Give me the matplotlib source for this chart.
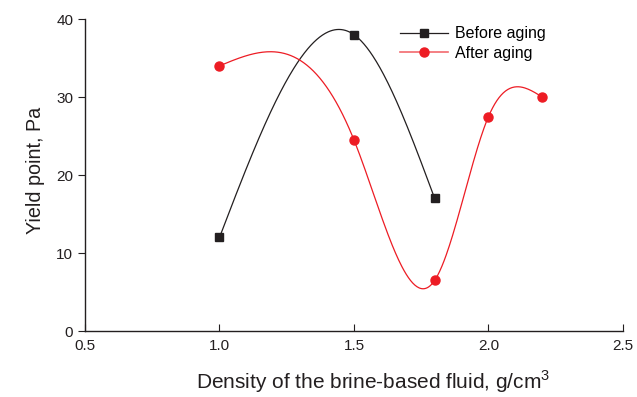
import numpy as np
import matplotlib
matplotlib.use("Agg")
import matplotlib.pyplot as plt

plt.rcParams['font.family'] = ['Liberation Sans', 'DejaVu Sans']

before_x = [1.0, 1.5, 1.8]
before_y = [12, 38, 17]
after_x = [1.0, 1.5, 1.8, 2.0, 2.2]
after_y = [34, 24.5, 6.5, 27.5, 30]
xticks = [0.5, 1.0, 1.5, 2.0, 2.5]
yticks = [0, 10, 20, 30, 40]


def natural_spline(x, y, n=300):
    x = np.asarray(x, float)
    y = np.asarray(y, float)
    m = len(x)
    h = np.diff(x)
    A = np.zeros((m, m))
    b = np.zeros(m)
    A[0, 0] = 1
    A[-1, -1] = 1
    for i in range(1, m - 1):
        A[i, i - 1] = h[i - 1]
        A[i, i] = 2 * (h[i - 1] + h[i])
        A[i, i + 1] = h[i]
        b[i] = 6 * ((y[i + 1] - y[i]) / h[i] - (y[i] - y[i - 1]) / h[i - 1])
    M = np.linalg.solve(A, b)
    xs = np.linspace(x[0], x[-1], n)
    ys = np.empty_like(xs)
    for k, t in enumerate(xs):
        i = min(np.searchsorted(x, t, side='right') - 1, m - 2)
        i = max(i, 0)
        a = x[i + 1] - t
        c = t - x[i]
        ys[k] = (M[i] * a**3 / (6 * h[i]) + M[i + 1] * c**3 / (6 * h[i])
                 + (y[i] / h[i] - M[i] * h[i] / 6) * a
                 + (y[i + 1] / h[i] - M[i + 1] * h[i] / 6) * c)
    return xs, ys


fig = plt.figure(figsize=(6.37, 3.97), dpi=100)
ax = fig.add_axes([0.1334, 0.166, 0.8446, 0.786])

black = '#231f20'
red = '#ed1c24'

bx, by = natural_spline(before_x, before_y)
ax.plot(bx, by, color=black, lw=0.9)
ax.plot(before_x, before_y, 's', color=black, ms=5.5, mec=black)

axx, ayy = natural_spline(after_x, after_y)
ax.plot(axx, ayy, color=red, lw=0.9)
ax.plot(after_x, after_y, 'o', color=red, ms=6.5, mec=red)

ax.plot([], [], '-s', color=black, lw=0.9, ms=5.5, label='Before aging')
ax.plot([], [], '-o', color='#f26a6e', mfc=red, mec=red, lw=1.2, ms=6.5, label='After aging')

ax.set_xlim(0.5, 2.5)
ax.set_ylim(0, 40)
ax.set_xticks(xticks)
ax.set_xticklabels(['0.5', '1.0', '1.5', '2.0', '2.5'])
ax.set_yticks(yticks)
for s in ['top', 'right']:
    ax.spines[s].set_visible(False)
for s in ['left', 'bottom']:
    ax.spines[s].set_linewidth(1.0)
    ax.spines[s].set_color(black)
ax.tick_params(axis='x', direction='in', length=5, labelsize=11, colors=black, pad=6)
ax.tick_params(axis='y', direction='out', length=5, labelsize=11, colors=black)

ax.set_xlabel('Density of the brine-based fluid, g/cm$^{\\mathregular{3}}$', fontsize=15, color=black)
ax.xaxis.set_label_coords(0.536, -0.118)
ax.set_ylabel('Yield point, Pa', fontsize=14.2, color=black)
ax.yaxis.set_label_coords(-0.075, 0.515)

leg = ax.legend(loc='upper left', bbox_to_anchor=(0.585, 0.977), frameon=False,
                borderpad=0, borderaxespad=0,
                fontsize=11.5, handlelength=3.0, handletextpad=0.45, labelspacing=0.3)

fig.savefig('out.png', dpi=100)
